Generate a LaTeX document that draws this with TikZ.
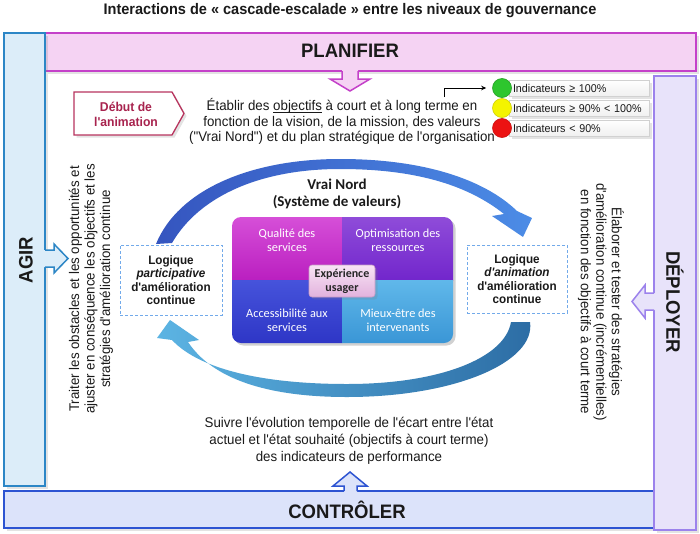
\documentclass[tikz,border=0pt]{standalone}
\usepackage{fontspec}
\setmainfont{Liberation Sans}
\newfontfamily\nar[FakeStretch=0.95]{Liberation Sans}
\newfontfamily\calfont{Carlito}
\usetikzlibrary{arrows.meta,shadows}
\newsavebox\myulbox
\newcommand\myul[1]{\sbox\myulbox{#1}\rlap{\rule[-2.2pt]{\wd\myulbox}{0.7pt}}\usebox\myulbox}
\definecolor{agirF}{HTML}{DCEDF9}
\definecolor{agirD}{HTML}{2C86C6}
\definecolor{planF}{HTML}{F5D3F3}
\definecolor{planD}{HTML}{C441C9}
\definecolor{depF}{HTML}{E8E3FA}
\definecolor{depD}{HTML}{9C82EC}
\definecolor{ctrlF}{HTML}{DCE3FA}
\definecolor{ctrlD}{HTML}{2D54D2}
\definecolor{crimD}{HTML}{B8345E}
\definecolor{crimT}{HTML}{A8234E}
\definecolor{topL}{HTML}{3555BF}
\definecolor{topR}{HTML}{4C8CE6}
\definecolor{botL}{HTML}{5CB4E3}
\definecolor{botR}{HTML}{2C6CA4}
\definecolor{qTLt}{HTML}{D64FD8}
\definecolor{qTLb}{HTML}{BA1FC0}
\definecolor{qTRt}{HTML}{8F4CD9}
\definecolor{qTRb}{HTML}{7226CC}
\definecolor{qBLt}{HTML}{4653DB}
\definecolor{qBLb}{HTML}{2E36C6}
\definecolor{qBRt}{HTML}{60B8EA}
\definecolor{qBRb}{HTML}{3A96D6}
\definecolor{expT}{HTML}{F8E4F5}
\definecolor{expB}{HTML}{E2B2DD}
\definecolor{expD}{HTML}{C79BC4}
\definecolor{dashC}{HTML}{72AAEA}
\definecolor{txtc}{HTML}{1A1A1A}
\definecolor{indG}{HTML}{2EC62E}
\definecolor{indY}{HTML}{F4F400}
\definecolor{indR}{HTML}{EC1212}
\begin{document}
\begin{tikzpicture}[x=1pt,y=-1pt,
  barline/.style={line width=1.8pt},
  shad/.style={drop shadow={opacity=0.22,shadow xshift=2.5pt,shadow yshift=-2.5pt}},
  blockarrow/.style={line width=1.5pt,line join=miter},
  bodytxt/.style={font=\nar\fontsize{14}{15.5}\selectfont, align=center, text=txtc, inner sep=0pt},
  bartxt/.style={font=\nar\bfseries\fontsize{19.5}{22}\selectfont, text=txtc, inner sep=0pt},
  quadtxt/.style={font=\calfont\fontsize{12.3}{14}\selectfont, text=white, align=center, inner sep=0pt},
  logbox/.style={draw=dashC, dashed, dash pattern=on 3pt off 2pt, line width=1pt, fill=white,
    minimum width=102pt, align=center, font=\nar\bfseries\fontsize{12.3}{13.5}\selectfont, text=txtc},
  indbox/.style={draw=black!18, top color=white, bottom color=black!6, minimum height=16pt,
    text width=132pt, inner xsep=4pt, inner ysep=0pt, align=left,
    font=\nar\fontsize{11.3}{13}\selectfont, text=txtc, shad},
  inddot/.style={circle, minimum size=19pt, inner sep=0pt, line width=0.6pt}
]
\useasboundingbox (0,0) rectangle (700,533);
\fill[white] (0,0) rectangle (700,533);

% title
\node[font=\nar\bfseries\fontsize{15.3}{17}\selectfont, text=txtc, inner sep=0pt] (title) at (350,10.5)
  {Interactions de « cascade-escalade » entre les niveaux de gouvernance};

% bars
\filldraw[fill=planF, draw=planD, barline, shad] (45,33) rectangle (696,71);
\filldraw[fill=ctrlF, draw=ctrlD, barline, shad] (4,491) rectangle (654,528);
\filldraw[fill=depF, draw=depD, barline, shad] (654,76) rectangle (696,530);
\filldraw[fill=agirF, draw=agirD, barline, shad] (4,33) rectangle (45,486);

% block arrows
\fill[planF] (342,68) -- (342,79) -- (330,79) -- (350,91) -- (370,79) -- (358,79) -- (358,68) -- cycle;
\draw[planD, blockarrow] (342,71) -- (342,79) -- (330,79) -- (350,91) -- (370,79) -- (358,79) -- (358,71);
\fill[agirF] (43,250) -- (54,250) -- (54,244) -- (68,258.5) -- (54,273) -- (54,267) -- (43,267) -- cycle;
\draw[agirD, blockarrow] (45,250) -- (54,250) -- (54,244) -- (68,258.5) -- (54,273) -- (54,267) -- (45,267);
\fill[depF] (656,293) -- (645,293) -- (645,285) -- (632,301.5) -- (645,318) -- (645,310) -- (656,310) -- cycle;
\draw[depD, blockarrow] (654,293) -- (645,293) -- (645,285) -- (632,301.5) -- (645,318) -- (645,310) -- (654,310);
\fill[ctrlF] (344,493) -- (344,486) -- (333,486) -- (350,472) -- (367,486) -- (357,486) -- (357,493) -- cycle;
\draw[ctrlD, blockarrow] (344,491) -- (344,486) -- (333,486) -- (350,472) -- (367,486) -- (357,486) -- (357,491);

% bar labels
\node[bartxt] (planif) at (350,51) {PLANIFIER};
\node[bartxt] (ctrl) at (347,510) {CONTRÔLER};
\node[bartxt, rotate=90] (agir) at (26,260) {AGIR};
\node[bartxt, rotate=-90] (depl) at (675,302) {DÉPLOYER};

% debut de l'animation
\draw[crimD, line width=1.3pt, fill=white, shad] (74,92) -- (172,92) -- (184,113.5) -- (172,135) -- (74,135) -- cycle;
\node[font=\nar\bfseries\fontsize{12.8}{15}\selectfont, text=crimT, align=center, inner sep=0pt] (debut) at (126,114.5)
  {Début de\\l'animation};

% planning text
\node[bodytxt] (etab) at (342,121.5)
  {Établir des \myul{objectifs} à court et à long terme en\\fonction de la vision, de la mission, des valeurs\\("Vrai Nord") et du plan stratégique de l'organisation};

% indicators
\node[indbox] (i1) at (579,88) {Indicateurs ≥ 100\%};
\node[indbox] (i2) at (579,108) {Indicateurs ≥ 90\% < 100\%};
\node[indbox] (i3) at (579,128) {Indicateurs < 90\%};
\node[inddot, fill=indG, draw=indG!80!black] (g1) at (502,88) {};
\node[inddot, fill=indY, draw=indY!85!black] (g2) at (502,108) {};
\node[inddot, fill=indR, draw=indR!85!black] (g3) at (502,128) {};
\coordinate (elbs) at (444,97);
\draw[black, line width=0.8pt, -{Stealth[length=5pt,width=4.5pt]}] (elbs) |- ([xshift=-6pt]g1.west);

% cycle arrows
\shade[left color=topL, right color=topR]
  (156,244) .. controls (178,190) and (250,159) .. (340,159)
  .. controls (425,159) and (485,180) .. (517,211)
  -- (532,218) -- (523,237) -- (492,216) -- (504,214)
  .. controls (470,187) and (420,169) .. (340,169)
  .. controls (262,169) and (200,195) .. (172,243) -- cycle;
\shade[left color=botL, right color=botR]
  (530,322) .. controls (536,362) and (455,397) .. (347,397)
  .. controls (265,397) and (212,378) .. (188,342)
  -- (199,340) -- (170,320) -- (157,338) -- (172,340)
  .. controls (200,370) and (265,384) .. (347,384)
  .. controls (440,384) and (505,358) .. (511,322) -- cycle;

% Vrai Nord
\node[font=\calfont\bfseries\fontsize{15}{17}\selectfont, text=txtc, align=center, inner sep=0pt] (vrai) at (337,193.5)
  {Vrai Nord\\(Système de valeurs)};

% quadrants
\fill[black, opacity=0.18] (234.5,219.5) [rounded corners=9pt] rectangle (455.5,345.5);
\begin{scope}
  \clip[rounded corners=9pt] (232,217) rectangle (453,343);
  \shade[top color=qTLt, bottom color=qTLb] (232,217) rectangle (342,280);
  \shade[top color=qTRt, bottom color=qTRb] (342,217) rectangle (453,280);
  \shade[top color=qBLt, bottom color=qBLb] (232,280) rectangle (342,343);
  \shade[top color=qBRt, bottom color=qBRb] (342,280) rectangle (453,343);
\end{scope}
\node[quadtxt] (q1) at (287,240) {Qualité des\\services};
\node[quadtxt] (q2) at (398,240) {Optimisation des\\ressources};
\node[quadtxt] (q3) at (287,320) {Accessibilité aux\\services};
\node[quadtxt] (q4) at (398,320) {Mieux-être des\\intervenants};
\node[rounded corners=3pt, top color=expT, bottom color=expB, draw=expD, line width=0.6pt,
  minimum width=66pt, minimum height=32pt, inner sep=0pt, align=center,
  font=\calfont\bfseries\fontsize{12}{14}\selectfont, text=black!85, shad] (exp) at (342,281)
  {Expérience\\usager};

% logic boxes
\node[logbox, minimum height=70pt] (lpart) at (171,280)
  {Logique\\\textit{participative}\\d'amélioration\\continue};
\node[logbox, minimum width=100pt, minimum height=68pt] (lanim) at (517,279)
  {Logique\\\textit{d'animation}\\d'amélioration\\continue};

% side texts
\node[bodytxt, rotate=90] (agirtxt) at (91,289)
  {Traiter les obstacles et les opportunités et\\ajuster en conséquence les objectifs et les\\stratégies d'amélioration continue};
\node[bodytxt, rotate=-90] (depltxt) at (601,302)
  {Élaborer et tester des stratégies\\d'amélioration continue (incrémentielles)\\en fonction des objectifs à court terme};

% control text
\node[bodytxt, font=\nar\fontsize{14}{17}\selectfont] (suivre) at (349,441)
  {Suivre l'évolution temporelle de l'écart entre l'état\\actuel et l'état souhaité (objectifs à court terme)\\des indicateurs de performance};
\end{tikzpicture}
\end{document}
